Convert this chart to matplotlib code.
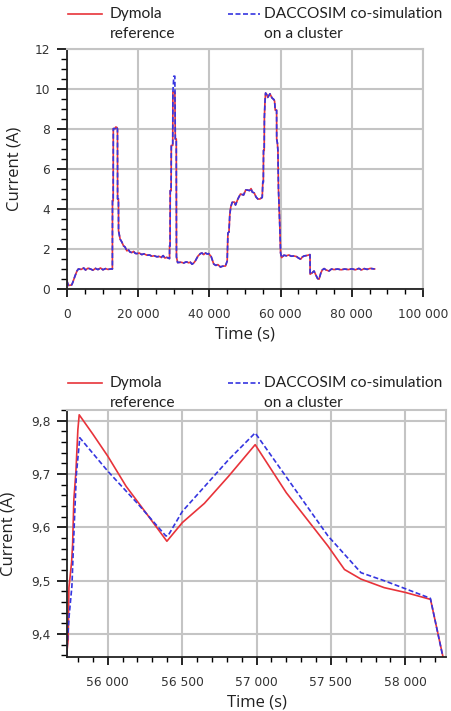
import numpy as np
import matplotlib
matplotlib.use("Agg")
import matplotlib.pyplot as plt
from matplotlib.lines import Line2D
from matplotlib.ticker import MultipleLocator, FuncFormatter

# --- full day current (top chart) ---
t_full = [0, 370, 1300, 1600, 2250, 2800, 3190, 4000, 4700, 5200, 5900, 6600, 7300, 8000,
          8700, 9400, 10100, 10800, 11500, 12300, 12750, 12780, 12980, 13010, 13500, 13700,
          14000, 14180, 14210, 14450, 14480, 14930, 15400, 15870, 16300, 16810, 17300, 17700,
          18220, 18700, 19200, 19630, 20300, 21000, 21600, 22450, 23200, 23800, 24500, 25270,
          25900, 26500, 27000, 27500, 28000, 28540, 28800, 28820, 28950, 29000, 29250, 29300,
          29700, 29750, 30000, 30300, 30420, 30700, 30750, 31080, 32000, 32800, 33500, 34200,
          34650, 35120, 35600, 36060, 36800, 37470, 37900, 38400, 38900, 39400, 39800, 40500,
          41210, 41800, 42400, 43100, 43700, 44510, 45000, 45200, 45500, 45720, 46000, 46390,
          47000, 47330, 48000, 48730, 49600, 50200, 50620, 51300, 51700, 52030, 52600, 53100,
          53610, 54200, 54840, 55000, 55150, 55200, 55400, 55450, 55600, 55780, 56200, 56400,
          57000, 57600, 58120, 58300, 58500, 58880, 58900, 59100, 59250, 59400, 59600, 59800,
          60000, 60290, 60940, 61600, 62300, 63000, 63750, 64500, 65000, 65640, 66100, 66570,
          67500, 68260, 68300, 68800, 69390, 69900, 70400, 70800, 71300, 71700, 72220, 72800,
          73600, 74300, 75000, 76000, 77000, 78000, 79000, 80000, 81000, 82000, 82700, 83500,
          84300, 85200, 86400]
i_dymola_full = [0.40, 0.18, 0.20, 0.32, 0.65, 0.90, 1.00, 0.98, 1.05, 0.95, 1.04, 1.00, 0.94, 1.03,
                 0.97, 1.05, 0.96, 1.02, 0.98, 1.00, 1.00, 4.42, 4.42, 8.02, 8.02, 8.10,
                 8.08, 8.00, 4.50, 4.50, 2.91, 2.49, 2.35, 2.16, 2.10, 1.91, 1.95, 1.85,
                 1.82, 1.88, 1.78, 1.77, 1.80, 1.72, 1.76, 1.69, 1.70, 1.64, 1.66, 1.61,
                 1.63, 1.58, 1.67, 1.55, 1.58, 1.54, 1.52, 2.16, 2.16, 4.92, 4.92, 7.18,
                 7.18, 9.85, 9.85, 9.85, 7.50, 7.50, 1.60, 1.32, 1.34, 1.30, 1.36, 1.31,
                 1.34, 1.24, 1.30, 1.41, 1.65, 1.77, 1.80, 1.72, 1.80, 1.75, 1.77, 1.62,
                 1.25, 1.18, 1.22, 1.10, 1.14, 1.15, 1.40, 2.80, 2.85, 3.70, 4.10, 4.33,
                 4.35, 4.20, 4.50, 4.75, 4.70, 4.95, 4.95, 4.92, 5.02, 4.85, 4.80, 4.60,
                 4.50, 4.50, 4.58, 5.34, 5.34, 6.93, 6.93, 8.60, 9.30, 9.80, 9.70, 9.58,
                 9.76, 9.55, 9.47, 9.40, 8.94, 8.94, 7.50, 7.30, 6.90, 5.00, 4.00, 3.00,
                 1.80, 1.57, 1.69, 1.66, 1.70, 1.64, 1.65, 1.62, 1.55, 1.49, 1.60, 1.65,
                 1.68, 1.72, 0.74, 0.80, 0.90, 0.70, 0.52, 0.49, 0.80, 0.95, 1.02, 0.95,
                 0.90, 1.00, 0.97, 1.00, 0.96, 1.00, 0.97, 1.01, 0.96, 1.03, 0.95, 1.02,
                 0.98, 1.03, 1.00]
# co-simulation overlaps the reference except at the second peak
i_daccosim_full = list(i_dymola_full)
i_daccosim_full[64] = 10.64
i_daccosim_full[65] = 10.64

# --- zoom on the 56 000 - 58 300 s window (bottom chart) ---
t_dymola_zoom = [55724, 55735, 55740, 55758, 55765, 55773, 55787, 55800, 55809, 55900, 56002,
                 56124, 56250, 56398, 56502, 56650, 56813, 56991, 57200, 57480, 57591, 57702,
                 57858, 58000, 58169, 58253]
i_dymola_zoom = [9.36, 9.39, 9.487, 9.535, 9.57, 9.652, 9.705, 9.783, 9.811, 9.775, 9.733,
                 9.677, 9.63, 9.574, 9.609, 9.645, 9.696, 9.755, 9.665, 9.565, 9.521, 9.503,
                 9.487, 9.478, 9.465, 9.357]
t_daccosim_zoom = [55724, 55740, 55760, 55775, 55790, 55813, 56002, 56200, 56391, 56405, 56502,
                   56813, 56991, 57480, 57702, 57858, 58000, 58168, 58250]
i_daccosim_zoom = [9.36, 9.43, 9.49, 9.60, 9.70, 9.768, 9.705, 9.645, 9.584, 9.584, 9.630,
                   9.727, 9.777, 9.584, 9.515, 9.500, 9.485, 9.467, 9.36]

red = '#e8333a'
blue = '#3535e0'
grid_c = '#c4c4c4'
W, H = 451, 711

fig = plt.figure(figsize=(W / 100, H / 100), dpi=100)


def style_axes(ax, ymaj, ymin, xmaj, xmin):
    ax.grid(True, color=grid_c, lw=1.5)
    ax.set_axisbelow(True)
    for s in ['top', 'right']:
        ax.spines[s].set_color(grid_c)
        ax.spines[s].set_linewidth(1.5)
    for s in ['left', 'bottom']:
        ax.spines[s].set_color('#222222')
        ax.spines[s].set_linewidth(1.3)
    ax.yaxis.set_major_locator(MultipleLocator(ymaj))
    ax.yaxis.set_minor_locator(MultipleLocator(ymin))
    ax.xaxis.set_major_locator(MultipleLocator(xmaj))
    ax.xaxis.set_minor_locator(MultipleLocator(xmin))
    ax.tick_params(axis='y', which='major', length=7, width=1.2, pad=5,
                   labelsize=8.8, labelcolor='#333333')
    ax.tick_params(axis='y', which='minor', length=4, width=1.0)
    ax.tick_params(axis='x', which='major', length=5.5, width=1.2, pad=8,
                   labelsize=8.8, labelcolor='#333333')
    ax.tick_params(axis='x', which='minor', length=3.5, width=1.0)
    ax.xaxis.set_major_formatter(FuncFormatter(lambda v, p: f"{int(round(v)):,}".replace(",", " ")))
    ax.set_xlabel('Time (s)', fontsize=12, family='Open Sans', color='#222222')
    ax.set_ylabel('Current (A)', fontsize=12, family='Open Sans', color='#222222')


def legend(y_px):
    fy = lambda p: 1 - p / H
    fig.add_artist(Line2D([68 / W, 102 / W], [fy(y_px), fy(y_px)], color=red, lw=1.2))
    fig.add_artist(Line2D([228 / W, 260 / W], [fy(y_px), fy(y_px)], color=blue, lw=1.2,
                          ls=(0, (3, 1.5))))
    kw = dict(fontsize=11.2, family='Lato', va='center', ha='left', color='#222222')
    fig.text(110 / W, fy(y_px), 'Dymola', **kw)
    fig.text(110 / W, fy(y_px + 20), 'reference', **kw)
    fig.text(264 / W, fy(y_px), 'DACCOSIM co-simulation', **kw)
    fig.text(264 / W, fy(y_px + 20), 'on a cluster', **kw)


# top chart
ax1 = fig.add_axes([67 / W, 1 - 289 / H, 356 / W, 240 / H])
ax1.plot(t_full, i_dymola_full, color=red, lw=1.2)
ax1.plot(t_full, i_daccosim_full, color=blue, lw=1.2, ls=(0, (3, 1.5)))
ax1.set_xlim(0, 100000)
ax1.set_ylim(0, 12)
style_axes(ax1, 2, 0.5, 20000, 5000)
ax1.xaxis.set_label_coords(0.5, -0.155)
ax1.yaxis.set_label_coords(-0.125, 0.5)
legend(14)

# bottom chart
ax2 = fig.add_axes([67 / W, 1 - 657 / H, 379 / W, 247 / H])
ax2.plot(t_dymola_zoom, i_dymola_zoom, color=red, lw=1.2)
ax2.plot(t_daccosim_zoom, i_daccosim_zoom, color=blue, lw=1.2, ls=(0, (3, 1.5)))
ax2.set_xlim(55727, 58273)
ax2.set_ylim(9.357, 9.82)
style_axes(ax2, 0.1, 0.02, 500, 100)
ax2.yaxis.set_major_formatter(FuncFormatter(lambda v, p: f"{v:.1f}".replace(".", ",")))
ax2.xaxis.set_label_coords(0.5, -0.152)
ax2.yaxis.set_label_coords(-0.132, 0.5)
legend(383)

fig.savefig('out.png', dpi=100)
